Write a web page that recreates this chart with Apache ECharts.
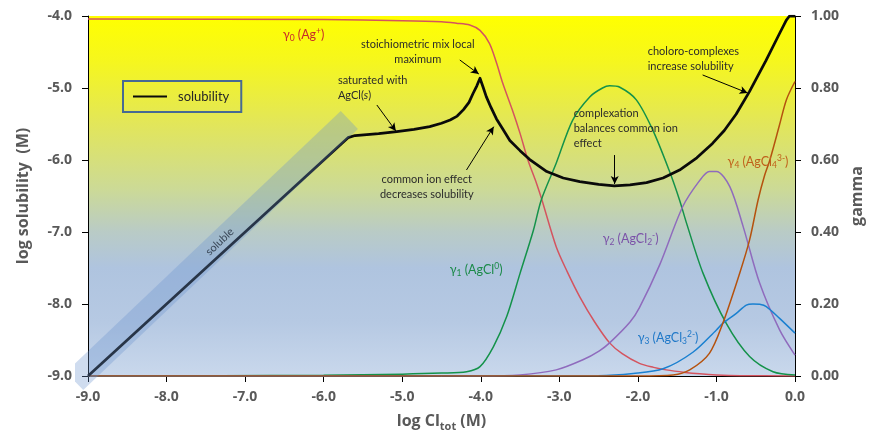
<!DOCTYPE html>
<html>
<head>
<meta charset="utf-8">
<script src="https://cdn.jsdelivr.net/npm/echarts@6/dist/echarts.min.js"></script>
<style>
  html, body { margin: 0; padding: 0; background: #ffffff; }
  #chart { width: 873px; height: 434px; }
</style>
</head>
<body>
<div id="chart"></div>
<script>
// Silver chloride solubility vs total chloride (log units)
const solLogCl = [-9, -5.69, -5.6, -5.3, -5.07, -4.85, -4.65, -4.5, -4.39, -4.3, -4.22, -4.15, -4.1, -4.05, -4.01, -3.97, -3.93, -3.87, -3.8, -3.72, -3.63, -3.5, -3.38, -3.16, -2.95, -2.74, -2.5, -2.3, -2.1, -1.89, -1.68, -1.47, -1.25, -1.05, -0.9, -0.75, -0.58, -0.37, -0.2, -0.11, -0.07, 0];
const solLogS = [-9, -5.69, -5.66, -5.635, -5.607, -5.575, -5.537, -5.49, -5.444, -5.39, -5.30, -5.20, -5.08, -4.97, -4.865, -4.99, -5.12, -5.27, -5.43, -5.57, -5.73, -5.87, -5.99, -6.16, -6.25, -6.30, -6.34, -6.36, -6.345, -6.315, -6.25, -6.14, -5.97, -5.77, -5.59, -5.365, -5.05, -4.62, -4.25, -4.056, -4.0, -4.0];

// Species fractions (gamma) vs log Cl_tot
const g0LogCl = [-9, -6, -5, -4.5, -4.31, -4.14, -4.01, -3.89, -3.8, -3.72, -3.6, -3.5, -3.4, -3.29, -3.23, -3.04, -2.9, -2.74, -2.55, -2.36, -2.2, -1.98, -1.8, -1.64, -1.4, -1.21, -1.0, -0.7, 0];
const g0Frac = [0.992, 0.99, 0.987, 0.984, 0.98, 0.975, 0.96, 0.924, 0.87, 0.813, 0.74, 0.674, 0.60, 0.535, 0.495, 0.359, 0.29, 0.22, 0.15, 0.092, 0.062, 0.035, 0.024, 0.017, 0.01, 0.006, 0.003, 0.001, 0];

const g1LogCl = [-9, -6, -5, -4.5, -4.18, -4.01, -3.84, -3.67, -3.5, -3.33, -3.23, -3.04, -2.83, -2.61, -2.45, -2.36, -2.23, -2.02, -1.81, -1.6, -1.47, -1.38, -1.17, -0.875, -0.578, -0.28, 0];
const g1Frac = [0, 0.002, 0.005, 0.008, 0.012, 0.026, 0.081, 0.165, 0.285, 0.405, 0.489, 0.591, 0.711, 0.776, 0.80, 0.806, 0.802, 0.767, 0.683, 0.57, 0.489, 0.424, 0.285, 0.146, 0.054, 0.012, 0.003];

const g2LogCl = [-9, -4, -3.5, -3.04, -2.7, -2.49, -2.36, -2.1, -1.98, -1.72, -1.43, -1.21, -1.09, -1.0, -0.83, -0.66, -0.45, -0.196, 0];
const g2Frac = [0, 0, 0.003, 0.017, 0.045, 0.07, 0.092, 0.15, 0.19, 0.31, 0.47, 0.544, 0.568, 0.568, 0.526, 0.415, 0.258, 0.128, 0.058];

const g3LogCl = [-9, -2.5, -2.06, -1.68, -1.3, -1.0, -0.92, -0.747, -0.62, -0.535, -0.45, -0.365, -0.196, 0];
const g3Frac = [0, 0.001, 0.007, 0.02, 0.066, 0.128, 0.146, 0.174, 0.197, 0.2, 0.199, 0.193, 0.16, 0.119];

const g4LogCl = [-9, -2.0, -1.55, -1.34, -1.09, -0.92, -0.705, -0.578, -0.47, -0.39, -0.32, -0.2, -0.11, 0];
const g4Frac = [0, 0, 0.003, 0.017, 0.063, 0.146, 0.285, 0.378, 0.489, 0.555, 0.6, 0.695, 0.767, 0.818];

// Shaded "soluble" region along the fully dissolved branch (ends of the strip, data units)
const solubleStrip = [[-9.17, -9.07], [-5.673, -5.444]];

// Callout arrows: [from, to] in (log Cl_tot, log S)
const arrows = [
  [[-4.267, -4.611], [-4.025, -4.806]],
  [[-5.323, -5.236], [-5.081, -5.597]],
  [[-4.182, -6.139], [-3.835, -5.537]],
  [[-2.295, -5.931], [-2.295, -6.333]],
  [[-1.176, -4.819], [-0.603, -5.069]]
];

// Callout texts anchored at (log Cl_tot, log S)
const notes = [
  { at: [-4.802, -4.493], align: 'center', text: 'stoichiometric mix local\nmaximum' },
  { at: [-5.819, -4.993], align: 'left', text: 'saturated with\nAgCl({i|s})' },
  { at: [-4.687, -6.375], align: 'center', text: 'common ion effect\ndecreases solubility' },
  { at: [-2.817, -5.556], align: 'left', text: 'complexation\nbalances common ion\neffect' },
  { at: [-1.875, -4.597], align: 'left', text: 'choloro-complexes\nincrease solubility' }
];

// Species labels
const speciesLabels = [
  { at: [-6.519, -4.264], color: '#c82a2a', text: 'γ{sb|0} (Ag{sp|+})' },
  { at: [-4.394, -7.528], color: '#1b8a48', text: 'γ{sb|1} (AgCl{sp|0})' },
  { at: [-2.448, -7.097], color: '#7b52a8', text: 'γ{sb|2} (AgCl{sb|2}{sp|-})' },
  { at: [-2.003, -8.472], color: '#1f78c8', text: 'γ{sb|3} (AgCl{sb|3}{sp|2-})' },
  { at: [-0.858, -6.028], color: '#c0601a', text: 'γ{sb|4} (AgCl{sb|4}{sp|3-})' }
];

const zip = (xs, ys) => xs.map((x, i) => [x, ys[i]]);

const chart = echarts.init(document.getElementById('chart'), null, { renderer: 'canvas' });

const axisGray = '#595959';
const labelFont = 'Open Sans';
const noteFont = 'Lato';
const solColor = '#0a0a0a';

const gammaSeries = (name, xs, ys, color) => ({
  name, type: 'line', yAxisIndex: 1, data: zip(xs, ys),
  showSymbol: false, smooth: 0.3,
  lineStyle: { color, width: 1.5 }, itemStyle: { color }, z: 3, silent: true
});

chart.setOption({
  animation: false,
  grid: {
    left: 88, right: 78, top: 16, bottom: 58,
    outerBoundsMode: 'none',
    show: true, borderWidth: 0,
    backgroundColor: new echarts.graphic.LinearGradient(0, 0, 0, 1, [
      { offset: 0, color: '#ffff00' },
      { offset: 0.12, color: '#f6f71c' },
      { offset: 0.3, color: '#e2e65a' },
      { offset: 0.48, color: '#ccda96' },
      { offset: 0.6, color: '#b9cbc6' },
      { offset: 0.7, color: '#afc4df' },
      { offset: 0.85, color: '#b6c9e3' },
      { offset: 1, color: '#c9d8ec' }
    ])
  },
  legend: {
    data: [{ name: 'solubility', icon: 'rect', itemStyle: { color: solColor } }],
    left: 123, top: 81,
    padding: [9, 12, 9, 10],
    borderColor: '#476a93', borderWidth: 2,
    itemWidth: 34, itemHeight: 2,
    selectedMode: false,
    textStyle: { fontSize: 13, color: '#262626', fontFamily: noteFont, padding: [0, 0, 0, 6] }
  },
  xAxis: {
    type: 'value', min: -9, max: 0, interval: 1,
    name: '{a|log Cl}{s|tot}{a| (M)}',
    nameLocation: 'middle', nameGap: 34,
    nameTextStyle: {
      rich: {
        a: { fontSize: 16, fontWeight: 'bold', color: axisGray, fontFamily: labelFont, lineHeight: 22 },
        s: { fontSize: 11, fontWeight: 'bold', color: axisGray, fontFamily: labelFont, lineHeight: 10, verticalAlign: 'bottom' }
      }
    },
    axisLine: { show: true, onZero: false, lineStyle: { color: '#000', width: 1 } },
    axisTick: { show: true, inside: false, length: 6, lineStyle: { color: '#000' } },
    axisLabel: { formatter: v => v.toFixed(1), fontSize: 14, fontWeight: 'bold', color: axisGray, fontFamily: labelFont, margin: 14 },
    splitLine: { show: false }
  },
  yAxis: [
    {
      type: 'value', min: -9, max: -4, interval: 1, position: 'left',
      name: 'log solubility  (M)', nameLocation: 'middle', nameGap: 57, nameRotate: 90,
      nameTextStyle: { fontSize: 16, fontWeight: 'bold', color: axisGray, fontFamily: labelFont },
      axisLine: { show: true, onZero: false, lineStyle: { color: '#000', width: 1 } },
      axisTick: { show: true, inside: false, length: 6, lineStyle: { color: '#000' } },
      axisLabel: { formatter: v => v.toFixed(1), fontSize: 14, fontWeight: 'bold', color: axisGray, fontFamily: labelFont, margin: 16 },
      splitLine: { show: false }
    },
    {
      type: 'value', min: 0, max: 1, interval: 0.2, position: 'right',
      name: 'gamma', nameLocation: 'middle', nameGap: 52, nameRotate: 90,
      nameTextStyle: { fontSize: 16, fontWeight: 'bold', color: axisGray, fontFamily: labelFont },
      axisLine: { show: true, onZero: false, lineStyle: { color: '#000', width: 1 } },
      axisTick: { show: true, inside: false, length: 6, lineStyle: { color: '#000' } },
      axisLabel: { formatter: v => v.toFixed(2), fontSize: 14, fontWeight: 'bold', color: axisGray, fontFamily: labelFont, margin: 16 },
      splitLine: { show: false }
    }
  ],
  series: [
    gammaSeries('γ0', g0LogCl, g0Frac, '#d4545f'),
    gammaSeries('γ1', g1LogCl, g1Frac, '#14924a'),
    gammaSeries('γ2', g2LogCl, g2Frac, '#8f6bbd'),
    gammaSeries('γ3', g3LogCl, g3Frac, '#1a80d0'),
    gammaSeries('γ4', g4LogCl, g4Frac, '#b5520e'),
    {
      name: 'solubility', type: 'line', yAxisIndex: 0,
      data: zip(solLogCl, solLogS),
      showSymbol: false, smooth: false,
      lineStyle: { color: solColor, width: 2.75, join: 'round' },
      itemStyle: { color: solColor },
      z: 5, silent: true,
      markLine: {
        silent: true, animation: false,
        symbol: ['none', 'arrow'], symbolSize: [6, 8],
        lineStyle: { color: '#000', width: 1, type: 'solid' },
        label: { show: false },
        emphasis: { disabled: true },
        data: arrows.map(([a, b]) => [{ coord: a }, { coord: b }])
      }
    },
    {
      name: 'soluble', type: 'line', yAxisIndex: 0,
      data: solubleStrip,
      showSymbol: false, clip: false, silent: true,
      lineStyle: { color: 'rgba(105,145,205,0.32)', width: 25, cap: 'butt' },
      z: 6
    }
  ]
});

// Text callouts placed through the axis scales
const toPx = p => chart.convertToPixel({ xAxisIndex: 0, yAxisIndex: 0 }, p);
const graphics = [];

notes.forEach(n => {
  const [x, y] = toPx(n.at);
  graphics.push({
    type: 'text', x, y, silent: true, z: 20,
    style: {
      text: n.text, fill: '#2b2b2b', fontSize: 11, fontFamily: noteFont,
      align: n.align, textAlign: n.align, verticalAlign: 'middle', textVerticalAlign: 'middle',
      lineHeight: 15,
      rich: { i: { fontStyle: 'italic', fontSize: 11, fontFamily: noteFont, fill: '#2b2b2b', lineHeight: 15 } }
    }
  });
});

speciesLabels.forEach(s => {
  const [x, y] = toPx(s.at);
  graphics.push({
    type: 'text', x, y, silent: true, z: 20,
    style: {
      text: s.text, fill: s.color, fontSize: 12.5, fontFamily: noteFont,
      align: 'left', textAlign: 'left', verticalAlign: 'middle', textVerticalAlign: 'middle',
      lineHeight: 16,
      rich: {
        sb: { fontSize: 8.5, fill: s.color, fontFamily: noteFont, lineHeight: 8, verticalAlign: 'bottom' },
        sp: { fontSize: 8.5, fill: s.color, fontFamily: noteFont, lineHeight: 8, verticalAlign: 'top' }
      }
    }
  });
});

// "soluble" label along the dissolved branch
{
  const a = toPx(solubleStrip[0]);
  const b = toPx(solubleStrip[1]);
  const angle = Math.atan2(a[1] - b[1], b[0] - a[0]);
  const [x, y] = toPx([-7.324, -7.135]);
  graphics.push({
    type: 'text', x, y, rotation: angle, silent: true, z: 20,
    style: {
      text: 'soluble', fill: '#3a4858', fontSize: 11, fontFamily: noteFont,
      align: 'center', textAlign: 'center', verticalAlign: 'middle', textVerticalAlign: 'middle'
    }
  });
}

chart.setOption({ graphic: { elements: graphics } });
</script>
</body>
</html>
